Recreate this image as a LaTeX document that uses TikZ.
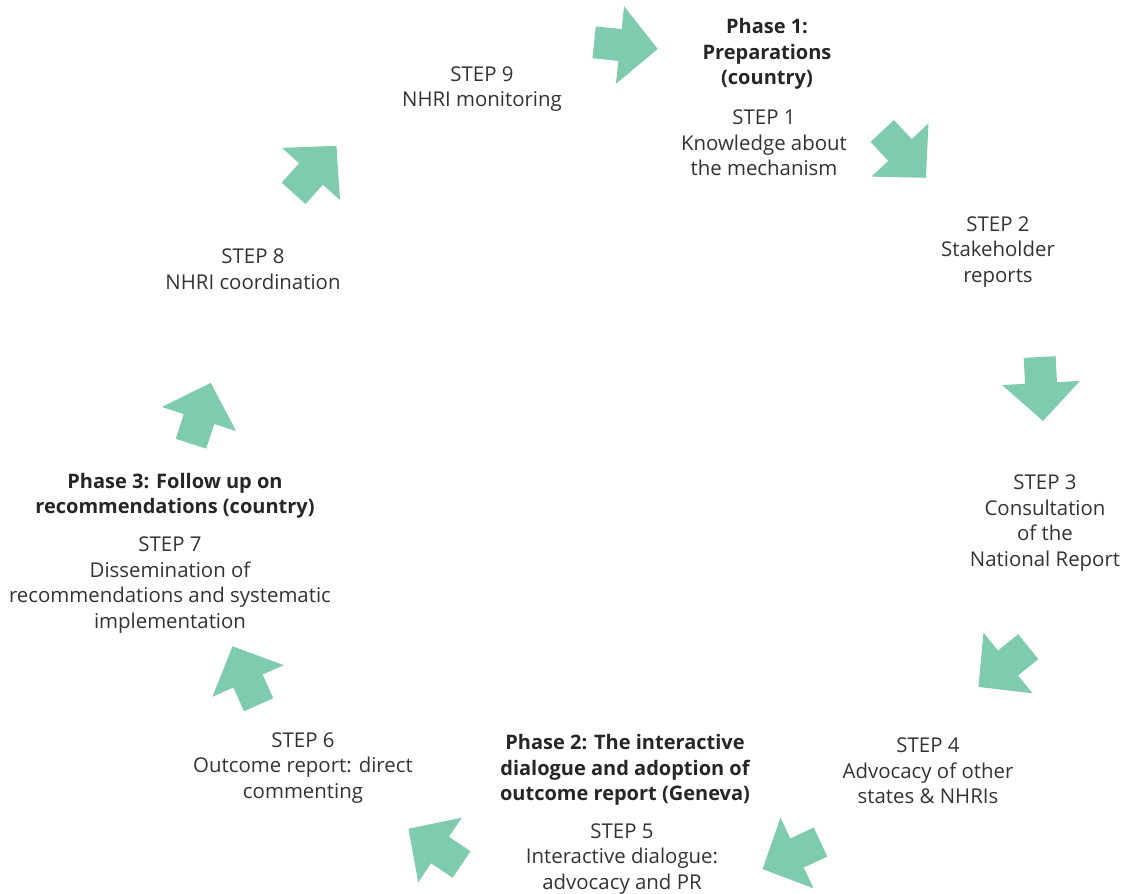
\documentclass[tikz,border=0pt]{standalone}
\usepackage{fontspec}
\setmainfont{Open Sans}
\definecolor{arrowgreen}{RGB}{127,203,174}
\definecolor{textgray}{RGB}{51,51,51}
\tikzset{
    flowarrow/.pic={\fill[arrowgreen] (-26,-16) -- (0,-16) -- (0,-39) -- (38,0) -- (0,39) -- (0,16) -- (-26,16) -- cycle;},
    steptext/.style={align=center,text=textgray,inner sep=0pt,font=\fontsize{20.4}{25.5}\selectfont},
    phasetext/.style={steptext,text=black!85,font=\fontsize{20}{25.5}\selectfont\bfseries}
}
\begin{document}
\begin{tikzpicture}[x=1pt,y=-1pt]
        \useasboundingbox (0,0) rectangle (1138,894);
        % arrows round the cycle, clockwise from the top
        \foreach \x/\y/\a in {620/45/-6,900/150/-47,1041/383/-87,1008/663/-141,797/853/-155,440/850/146,248/681/114,199/419/72,311/174/48}
            {\pic[rotate=\a] at (\x,\y) {flowarrow};}
        \begin{scope}[every node/.style={steptext}]
            \node[phasetext] (ph1) at (767,54) {Phase 1:\\Preparations\\(country)};
            \node (st1) at (764,143) {STEP 1\\Knowledge about\\the mechanism};
            \node (st2) at (998,252) {STEP 2\\Stakeholder\\reports};
            \node (st3) at (1045,523) {STEP 3\\Consultation\\of the\\National Report};
            \node (st4) at (928,771) {STEP 4\\Advocacy of other\\states \& NHRIs};

            \node[phasetext] (ph2) at (625,770) {Phase 2: The interactive\\dialogue and adoption of\\outcome report (Geneva)};
            \node (st5) at (622,859) {STEP 5\\Interactive dialogue:\\advocacy and PR};
            \node (st6) at (303,768) {STEP 6\\Outcome report: direct\\commenting};

            \node[phasetext] (ph3) at (175,496) {Phase 3: Follow up on\\recommendations (country)};
            \node (st7) at (170,585) {STEP 7\\Dissemination of\\recommendations and systematic\\implementation};
            \node (st8) at (253,269) {STEP 8\\NHRI coordination};
            \node (st9) at (482,89) {STEP 9\\NHRI monitoring};
        \end{scope}
    \end{tikzpicture}
\end{document}
